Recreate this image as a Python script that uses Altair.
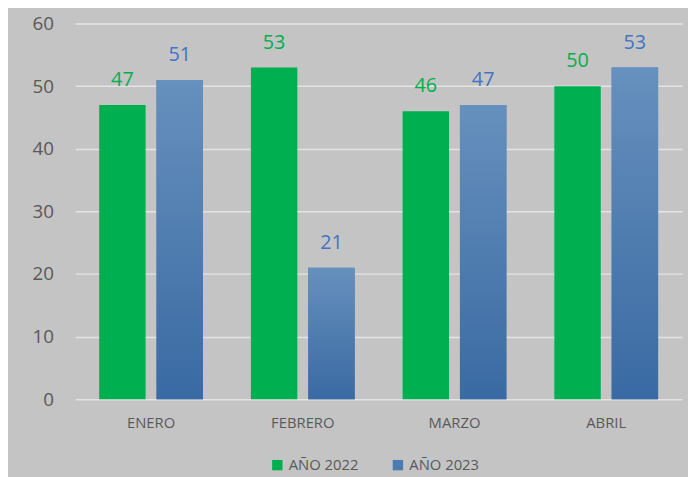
import altair as alt
import pandas as pd

months = ["ENERO", "FEBRERO", "MARZO", "ABRIL"]
series = ["AÑO 2022", "AÑO 2023"]
values_2022 = [47, 53, 46, 50]
values_2023 = [51, 21, 47, 53]

rows = []
for m, a, b in zip(months, values_2022, values_2023):
    rows.append({"mes": m, "serie": series[0], "valor": a})
    rows.append({"mes": m, "serie": series[1], "valor": b})
df = pd.DataFrame(rows)

FONT = "Open Sans"
GREEN = "#00b050"
BLUE = "#4a7cb2"

x_enc = alt.X("mes:N", sort=months, title=None,
              scale=alt.Scale(paddingInner=0.316, paddingOuter=0.158),
              axis=alt.Axis(labelAngle=0, domain=False, ticks=False, labelPadding=17,
                            labelFontSize=15, labelColor="#595959", labelFont=FONT, grid=False))
xo_enc = alt.XOffset("serie:N", sort=series, scale=alt.Scale(paddingInner=0.19, paddingOuter=0))
y_enc = alt.Y("valor:Q", title=None,
              scale=alt.Scale(domain=[0, 60], nice=False),
              axis=alt.Axis(values=[0, 10, 20, 30, 40, 50, 60], domain=False, ticks=False,
                            labelPadding=22, labelFontSize=19, labelColor="#595959",
                            labelFont=FONT, gridColor="#e4e4e4", gridWidth=1.5))

base = alt.Chart(df)

bars = base.mark_bar().encode(
    x=x_enc, xOffset=xo_enc, y=y_enc,
    color=alt.Color("serie:N", sort=series,
                    scale=alt.Scale(domain=series, range=[GREEN, BLUE]),
                    legend=alt.Legend(title=None, orient="none", direction="horizontal",
                                      legendX=197, legendY=439, symbolType="square",
                                      symbolSize=110, symbolStrokeWidth=0,
                                      labelFontSize=15, labelColor="#595959", labelFont=FONT,
                                      labelOffset=4, columnPadding=32)),
)

grad = alt.Gradient(
    gradient="linear",
    stops=[alt.GradientStop(color="#6690bd", offset=0),
           alt.GradientStop(color="#3a6aa3", offset=1)],
    x1=0, x2=0, y1=0, y2=1,
)

blue_bars = base.transform_filter(alt.datum.serie == series[1]).mark_bar(fill=grad).encode(
    x=x_enc, xOffset=xo_enc, y=y_enc,
)

labels = base.mark_text(baseline="bottom", dy=-15, fontSize=20, font=FONT).encode(
    x=x_enc, xOffset=xo_enc, y=y_enc,
    text=alt.Text("valor:Q"),
    color=alt.Color("serie:N", sort=series,
                    scale=alt.Scale(domain=series, range=[GREEN, "#4472c4"]), legend=None),
)

chart = alt.layer(bars, blue_bars, labels).resolve_scale(color="independent").properties(
    width=614, height=380,
    background="#c4c4c4",
    autosize=alt.AutoSizeParams(type="none"),
    padding={"left": 68, "top": 13, "right": 6, "bottom": 76},
).configure_view(stroke=None)

chart.save("out.html", embed_options={"renderer": "svg", "actions": False})
